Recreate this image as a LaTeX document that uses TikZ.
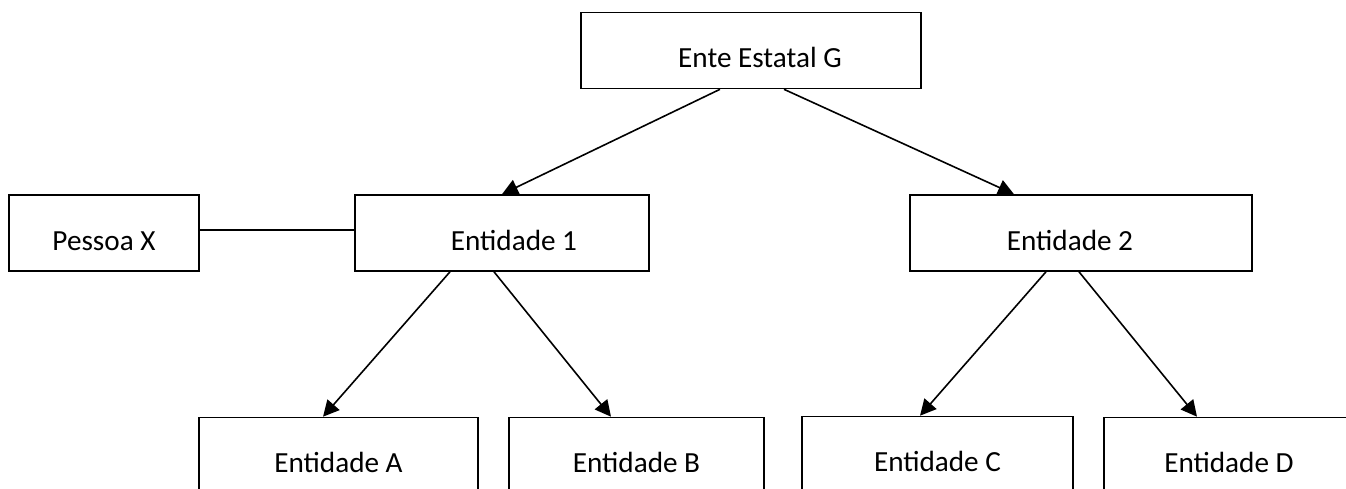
\documentclass[tikz,border=0pt]{standalone}
\usepackage{fontspec}
\setmainfont{Carlito}
\usetikzlibrary{arrows.meta}

\begin{document}
\begin{tikzpicture}[x=0.5pt, y=-0.5pt, line width=0.8pt,
    >={Triangle[length=8pt, width=8pt]},
    box/.style={draw, rectangle, minimum height=38pt, text height=17pt, text depth=0pt,
      font=\fontsize{14.6}{17}\selectfont}]
  \useasboundingbox (0,0) rectangle (1346,488);
  \node[box, minimum width=170pt] (g) at (751,50.5) {\hspace*{9pt}Ente Estatal G};
  \node[box, minimum width=95pt] (pessoa) at (104,233) {Pessoa X};
  \node[box, minimum width=147pt] (ent1) at (502,233) {\hspace*{12pt}Entidade 1};
  \node[box, minimum width=171pt] (ent2) at (1081,233) {Entidade 2\hspace*{11pt}};
  \node[box, minimum width=139.5pt] (entA) at (338.5,455.5) {Entidade A};
  \node[box, minimum width=127.5pt] (entB) at (636.5,455.5) {Entidade B};
  \node[box, minimum width=135.5pt] (entC) at (937.5,454.5) {Entidade C};
  \node[box, minimum width=125pt] (entD) at (1229,455.5) {Entidade D};
  \path[->]
    ([xshift=-15.5pt]g.south) edge (ent1.north)
    ([xshift=16.5pt]g.south) edge ([xshift=-33.5pt]ent2.north)
    ([xshift=-26pt]ent1.south) edge ([xshift=-7.75pt]entA.north)
    ([xshift=-4pt]ent1.south) edge ([xshift=-12.75pt]entB.north)
    ([xshift=-17.5pt]ent2.south) edge ([xshift=-8.75pt]entC.north)
    ([xshift=-1pt]ent2.south) edge ([xshift=-16pt]entD.north)
    ;
  \draw ([yshift=1.5pt]pessoa.east) -- ([yshift=1.5pt]ent1.west);
\end{tikzpicture}
\end{document}
